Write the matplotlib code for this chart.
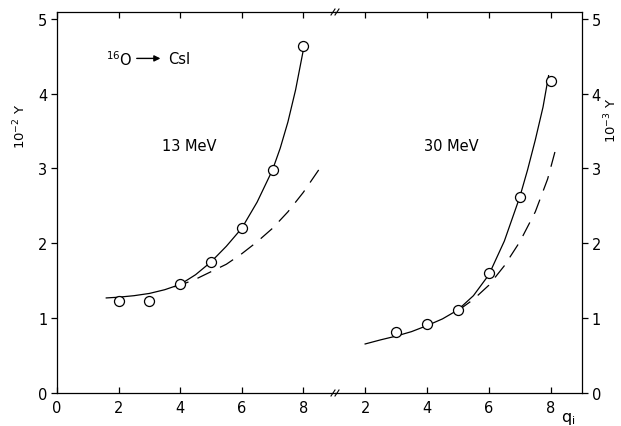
import matplotlib
matplotlib.use("Agg")
import matplotlib.pyplot as plt

plt.rcParams['font.family'] = ['DejaVu Sans']
plt.rcParams['lines.scale_dashes'] = False

# ---- data: 13 MeV (left, 10^-2 Y) ----
q13_pts = [2, 3, 4, 5, 6, 7, 8]
y13_pts = [1.23, 1.23, 1.46, 1.755, 2.20, 2.98, 4.63]
q13_fit = [1.6, 2.0, 2.5, 3.0, 3.5, 4.0, 4.5, 5.0, 5.5, 6.0, 6.5, 7.0, 7.25, 7.5, 7.75, 8.0]
y13_fit = [1.27, 1.28, 1.30, 1.33, 1.38, 1.45, 1.58, 1.75, 1.96, 2.20, 2.55, 2.98, 3.27, 3.62, 4.05, 4.58]
q13_dash = [3.8, 4.0, 4.5, 5.0, 5.5, 6.0, 6.5, 7.0, 7.5, 8.0, 8.5]
y13_dash = [1.42, 1.44, 1.52, 1.62, 1.72, 1.86, 2.02, 2.20, 2.42, 2.68, 2.98]

# ---- data: 30 MeV (right, 10^-3 Y) ----
q30_pts = [3, 4, 5, 6, 7, 8]
y30_pts = [0.81, 0.92, 1.11, 1.60, 2.62, 4.17]
q30_fit = [2.0, 2.5, 3.0, 3.5, 4.0, 4.5, 5.0, 5.5, 6.0, 6.5, 7.0, 7.25, 7.5, 7.75, 7.93]
y30_fit = [0.655, 0.71, 0.76, 0.82, 0.90, 0.99, 1.11, 1.30, 1.58, 2.03, 2.62, 2.98, 3.38, 3.82, 4.24]
q30_dash = [5.0, 5.5, 6.0, 6.5, 7.0, 7.5, 7.9, 8.2]
y30_dash = [1.10, 1.25, 1.44, 1.70, 2.02, 2.42, 2.86, 3.32]

xticks_left = [0, 2, 4, 6, 8]
xticks_right = [2, 4, 6, 8]
yticks = [0, 1, 2, 3, 4, 5]

W, H = 621, 427
fig = plt.figure(figsize=(W / 100, H / 100), dpi=100)

x0, xb, x1 = 57, 335, 582
yb, yt = 394, 13
axL = fig.add_axes([x0 / W, 1 - yb / H, (xb - x0) / W, (yb - yt) / H])
axR = fig.add_axes([xb / W, 1 - yb / H, (x1 - xb) / W, (yb - yt) / H])

ylim = (0, 5.09)
lw = 0.9
fs = 10.5

for ax in (axL, axR):
    ax.set_ylim(*ylim)
    ax.set_yticks(yticks)
    ax.patch.set_alpha(0)
    for s in ax.spines.values():
        s.set_linewidth(lw)

axL.set_xlim(0, 9.03)
axR.set_xlim(1.026, 9.01)

axL.spines['right'].set_visible(False)
axR.spines['left'].set_visible(False)

axL.set_xticks(xticks_left)
axR.set_xticks(xticks_right)
axL.tick_params(axis='x', which='both', direction='in', top=True, bottom=True,
                length=4, width=lw, labelsize=fs, pad=5)
axR.tick_params(axis='x', which='both', direction='in', top=True, bottom=True,
                length=4, width=lw, labelsize=fs, pad=5)
axL.tick_params(axis='y', direction='out', left=True, right=False, length=4,
                width=lw, labelsize=fs, pad=3)
axR.tick_params(axis='y', direction='out', left=False, right=True, labelleft=False,
                labelright=True, length=4, width=lw, labelsize=fs, pad=3)

mk = dict(marker='o', ms=7.2, mfc='white', mec='black', mew=0.9, ls='none', zorder=3)

axL.plot(q13_fit, y13_fit, color='black', lw=lw)
axL.plot(q13_dash, y13_dash, color='black', lw=lw, dashes=(11, 7))
axL.plot(q13_pts, y13_pts, **mk)

axR.plot(q30_fit, y30_fit, color='black', lw=lw)
axR.plot(q30_dash, y30_dash, color='black', lw=lw, dashes=(11, 7))
axR.plot(q30_pts, y30_pts, **mk)

axL.text(1.6, 4.47, "$^{16}$O", fontsize=fs, va='center', ha='left')
axL.annotate("", xy=(3.45, 4.47), xytext=(2.5, 4.47),
             arrowprops=dict(arrowstyle='-|>', color='black', lw=1.0, mutation_scale=9))
axL.text(3.6, 4.47, "CsI", fontsize=fs, va='center', ha='left')
axL.text(4.3, 3.30, "13 MeV", fontsize=fs, va='center', ha='center')
axR.text(4.77, 3.30, "30 MeV", fontsize=fs, va='center', ha='center')

fig.text(20 / W, 1 - 126 / H, "10$^{-2}$ Y", rotation=90, fontsize=9.5,
         ha='center', va='center')
fig.text(611 / W, 1 - 120 / H, "10$^{-3}$ Y", rotation=90, fontsize=9.5,
         ha='center', va='center')
fig.text(561 / W, 1 - 427 / H, "q$_\\mathrm{i}$", fontsize=fs + 1, ha='left', va='bottom')

# axis break marks
for yy in (yt, yb):
    for dx in (-2, 2):
        xc = xb + dx
        fig.add_artist(plt.Line2D([(xc - 2) / W, (xc + 2) / W],
                                  [1 - (yy + 3) / H, 1 - (yy - 3) / H],
                                  color='black', lw=0.8))

fig.savefig("out.png", dpi=100)
